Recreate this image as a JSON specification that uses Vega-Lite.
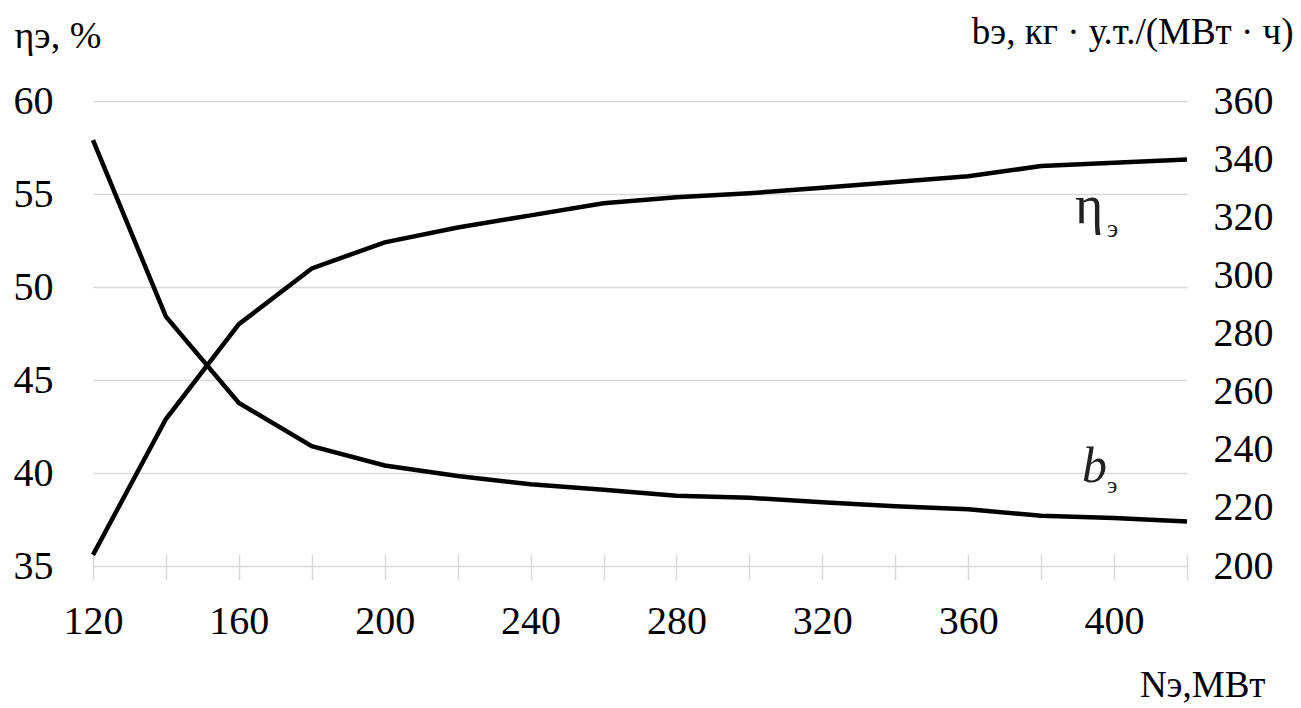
{
  "$schema": "https://vega.github.io/schema/vega-lite/v6.json",
  "width": 1094,
  "height": 465,
  "autosize": {"type": "none"},
  "padding": {"left": 93, "top": 101, "right": 114, "bottom": 142},
  "background": "white",
  "config": {
    "view": {"stroke": null},
    "font": "Liberation Serif",
    "text": {"font": "Liberation Serif"},
    "axis": {"labelFont": "Liberation Serif", "titleFont": "Liberation Serif", "labelColor": "black", "titleColor": "black", "titleFontWeight": "normal"}
  },
  "datasets": {
    "main": [
      {"N": 120, "eta": 35.6, "b": 346.5},
      {"N": 140, "eta": 42.9, "b": 285.8},
      {"N": 160, "eta": 48.0, "b": 256.1},
      {"N": 180, "eta": 51.0, "b": 241.2},
      {"N": 200, "eta": 52.4, "b": 234.6},
      {"N": 220, "eta": 53.2, "b": 231.0},
      {"N": 240, "eta": 53.85, "b": 228.1},
      {"N": 260, "eta": 54.5, "b": 226.2},
      {"N": 280, "eta": 54.82, "b": 224.2},
      {"N": 300, "eta": 55.04, "b": 223.5},
      {"N": 320, "eta": 55.34, "b": 221.9},
      {"N": 340, "eta": 55.65, "b": 220.6},
      {"N": 360, "eta": 55.95, "b": 219.5},
      {"N": 380, "eta": 56.5, "b": 217.3},
      {"N": 400, "eta": 56.68, "b": 216.5},
      {"N": 420, "eta": 56.86, "b": 215.3}
    ],
    "annEta": [{"N": 389.3, "eta": 53.45, "label": "η", "sub": "э"}],
    "annB": [{"N": 391.2, "b": 228.9, "label": "b", "sub": "э"}]
  },
  "encoding": {
    "x": {
      "field": "N", "type": "quantitative",
      "scale": {"domain": [120, 420], "nice": false, "zero": false},
      "axis": {
        "values": [120, 140, 160, 180, 200, 220, 240, 260, 280, 300, 320, 340, 360, 380, 400, 420],
        "labelExpr": "datum.value % 40 == 0 ? datum.label : ''",
        "offset": -12,
        "tickSize": 26, "tickColor": "#d9d9d9", "tickWidth": 1.5,
        "domain": false, "grid": false,
        "labelFont": "Liberation Serif", "labelFontSize": 40, "labelPadding": 21, "labelFlush": false,
        "title": "Nэ,МВт", "titleFont": "Liberation Serif", "titleFontSize": 37, "titleAlign": "right", "titleAnchor": "start",
        "titleBaseline": "alphabetic", "titleX": 1172, "titleY": 142
      }
    }
  },
  "layer": [
    {
      "encoding": {
        "y": {
          "field": "eta", "type": "quantitative",
          "scale": {"domain": [35, 60], "nice": false, "zero": false},
          "axis": {
            "orient": "left",
            "values": [35, 40, 45, 50, 55, 60],
            "grid": true, "gridColor": "#d9d9d9", "gridWidth": 1.5,
            "domain": false, "ticks": false, "tickSize": 0,
            "labelFont": "Liberation Serif", "labelFontSize": 40, "labelPadding": 40,
            "title": "ηэ, %", "titleFont": "Liberation Serif", "titleFontSize": 38, "titleAngle": 0,
            "titleAlign": "left", "titleBaseline": "alphabetic", "titleX": -79, "titleY": -54
          }
        }
      },
      "layer": [
        {"data": {"name": "main"}, "mark": {"type": "line", "color": "black", "strokeWidth": 4.5}},
        {"data": {"name": "annEta"}, "mark": {"type": "text", "font": "Liberation Serif", "align": "left", "baseline": "alphabetic", "fontSize": 54, "color": "#222"}, "encoding": {"text": {"field": "label"}}},
        {"data": {"name": "annEta"}, "mark": {"type": "text", "font": "Liberation Serif", "align": "left", "baseline": "alphabetic", "fontSize": 26, "dx": 32, "dy": 14, "color": "#222"}, "encoding": {"text": {"field": "sub"}}}
      ]
    },
    {
      "encoding": {
        "y": {
          "field": "b", "type": "quantitative",
          "scale": {"domain": [200, 360], "nice": false, "zero": false},
          "axis": {
            "orient": "right",
            "values": [200, 220, 240, 260, 280, 300, 320, 340, 360],
            "grid": false, "domain": false, "ticks": false, "tickSize": 0,
            "labelFont": "Liberation Serif", "labelFontSize": 40, "labelPadding": 26,
            "title": "bэ, кг · у.т./(МВт · ч)", "titleFont": "Liberation Serif", "titleFontSize": 37, "titleAngle": 0,
            "titleAlign": "right", "titleBaseline": "alphabetic", "titleX": 106, "titleY": -58
          }
        }
      },
      "layer": [
        {"data": {"name": "main"}, "mark": {"type": "line", "color": "black", "strokeWidth": 4.5}},
        {"data": {"name": "annB"}, "mark": {"type": "text", "font": "Liberation Serif", "align": "left", "baseline": "alphabetic", "fontSize": 50, "fontStyle": "italic", "color": "#222"}, "encoding": {"text": {"field": "label"}}},
        {"data": {"name": "annB"}, "mark": {"type": "text", "font": "Liberation Serif", "align": "left", "baseline": "alphabetic", "fontSize": 24, "dx": 25, "dy": 11, "color": "#222"}, "encoding": {"text": {"field": "sub"}}}
      ]
    }
  ],
  "resolve": {"scale": {"y": "independent"}, "axis": {"y": "independent"}}
}
